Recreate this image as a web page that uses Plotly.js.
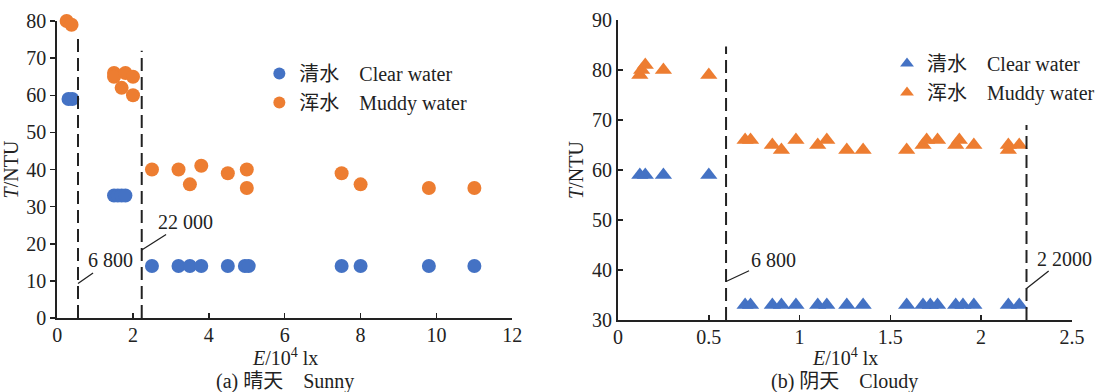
<!DOCTYPE html>
<html>
<head>
<meta charset="utf-8">
<script src="https://cdn.plot.ly/plotly-3.0.1.min.js"></script>
<style>html,body{margin:0;padding:0;background:#fff;}#chart{width:1100px;height:392px;}</style>
</head>
<body>
<div id="chart"></div>
<script>
// ---------- (a) Sunny ----------
const sunnyClearE  = [0.3, 0.4, 1.5, 1.6, 1.7, 1.8, 2.5, 3.2, 3.5, 3.8, 4.5, 4.95, 5.05, 7.5, 8.0, 9.8, 11.0];
const sunnyClearT  = [59, 59, 33, 33, 33, 33, 14, 14, 14, 14, 14, 14, 14, 14, 14, 14, 14];
const sunnyMuddyE  = [0.25, 0.38, 1.5, 1.5, 1.8, 2.0, 1.7, 2.0, 2.5, 3.2, 3.5, 3.8, 4.5, 5.0, 5.0, 7.5, 8.0, 9.8, 11.0];
const sunnyMuddyT  = [80, 79, 66, 65, 66, 65, 62, 60, 40, 40, 36, 41, 39, 40, 35, 39, 36, 35, 35];
const sunnyDividerE   = [0.55, 2.23];
const sunnyDividerTop = [75.7, 72];
const sunnyLabels     = ["6 800", "22 000"];
const sunnyLabelT     = [9.3, 18.3];

// ---------- (b) Cloudy ----------
const cloudyClearE = [0.12, 0.15, 0.25, 0.5, 0.70, 0.73, 0.85, 0.90, 0.98, 1.10, 1.15, 1.26, 1.35, 1.59, 1.68, 1.72, 1.76, 1.86, 1.90, 1.96, 2.15, 2.21];
const cloudyClearT = [59, 59, 59, 59, 33, 33, 33, 33, 33, 33, 33, 33, 33, 33, 33, 33, 33, 33, 33, 33, 33, 33];
const cloudyMuddyE = [0.12, 0.13, 0.15, 0.25, 0.5, 0.70, 0.73, 0.85, 0.90, 0.98, 1.10, 1.15, 1.26, 1.35, 1.59, 1.68, 1.70, 1.76, 1.86, 1.88, 1.96, 2.15, 2.15, 2.21];
const cloudyMuddyT = [79, 80, 81, 80, 79, 66, 66, 65, 64, 66, 65, 66, 64, 64, 64, 65, 66, 66, 65, 66, 65, 64, 65, 65];
const cloudyDividerE   = [0.595, 2.25];
const cloudyDividerTop = [84.7, 69];
const cloudyLabels     = ["6 800", "2 2000"];
const cloudyLabelT     = [37.7, 36.3];

const seriesNames = ["清水\u2003Clear water", "浑水\u2003Muddy water"];
const captions = ["(a) 晴天\u2003Sunny", "(b) 阴天\u2003Cloudy"];
const xTitle = "<i>E</i>/10<sup>4</sup> lx";
const yTitle = "<i>T</i>/NTU";

const BLUE = "#4472C4", ORANGE = "#ED7D31", INK = "#222222";
const FONT = "Liberation Serif, 'Times New Roman', 'Noto Sans CJK SC', serif";
const FS = 20;

const traces = [
  {x: sunnyClearE, y: sunnyClearT, xaxis: "x", yaxis: "y", type: "scatter", mode: "markers", name: seriesNames[0],
   marker: {color: BLUE, size: 14, symbol: "circle"}, cliponaxis: false, legend: "legend"},
  {x: sunnyMuddyE, y: sunnyMuddyT, xaxis: "x", yaxis: "y", type: "scatter", mode: "markers", name: seriesNames[1],
   marker: {color: ORANGE, size: 14, symbol: "circle"}, cliponaxis: false, legend: "legend"},
  {x: cloudyClearE, y: cloudyClearT, xaxis: "x2", yaxis: "y2", type: "scatter", mode: "markers", name: seriesNames[0],
   marker: {color: BLUE, size: 15, symbol: "triangle-up"}, cliponaxis: false, legend: "legend2"},
  {x: cloudyMuddyE, y: cloudyMuddyT, xaxis: "x2", yaxis: "y2", type: "scatter", mode: "markers", name: seriesNames[1],
   marker: {color: ORANGE, size: 15, symbol: "triangle-up"}, cliponaxis: false, legend: "legend2"}
];

const shapes = [];
function addDividers(xs, tops, bottom, xref, yref) {
  xs.forEach((xv, i) => shapes.push({type: "line", xref: xref, yref: yref, x0: xv, x1: xv, y0: bottom, y1: tops[i],
    line: {color: INK, width: 2, dash: "13px,6px"}}));
}
addDividers(sunnyDividerE, sunnyDividerTop, 0, "x", "y");
addDividers(cloudyDividerE, cloudyDividerTop, 30, "x2", "y2");

const annotations = [];
const sunnyOffsets = [[33, -23], [44, -28]];
const cloudyOffsets = [[47, -22], [38, -30]];
function addLabels(xs, ts, labels, offsets, xref, yref) {
  labels.forEach((txt, i) => annotations.push({x: xs[i], y: ts[i], xref: xref, yref: yref, text: txt,
    showarrow: true, arrowhead: 0, arrowwidth: 1.3, arrowcolor: INK, ax: offsets[i][0], ay: offsets[i][1],
    font: {family: FONT, size: FS, color: INK}}));
}
addLabels(sunnyDividerE, sunnyLabelT, sunnyLabels, sunnyOffsets, "x", "y");
addLabels(cloudyDividerE, cloudyLabelT, cloudyLabels, cloudyOffsets, "x2", "y2");

const panelCentersX = [286.5/1100, 850/1100];
panelCentersX.forEach((cx, i) => {
  annotations.push({text: xTitle, xref: "paper", yref: "paper", x: cx, y: (392-357)/392,
    xanchor: "center", yanchor: "middle", showarrow: false, font: {family: FONT, size: FS, color: INK}});
  annotations.push({text: captions[i], xref: "paper", yref: "paper", x: cx, y: (392-381)/392,
    xanchor: "center", yanchor: "middle", showarrow: false, font: {family: FONT, size: FS, color: INK}});
});

const axBase = {showgrid: false, zeroline: false, showline: true, linecolor: INK, linewidth: 2,
  ticks: "inside", ticklen: 5, tickwidth: 1.5, tickcolor: INK,
  tickfont: {family: FONT, size: FS, color: INK}, automargin: false, fixedrange: true};

const layout = {
  width: 1100, height: 392,
  margin: {l: 0, r: 0, t: 0, b: 0},
  paper_bgcolor: "#fff", plot_bgcolor: "#fff",
  font: {family: FONT, size: FS, color: INK},
  xaxis: Object.assign({}, axBase, {domain: [57.5/1100, 515.6/1100], range: [0, 12], dtick: 2, tick0: 0,
    anchor: "y", ticklabelstandoff: -2}),
  yaxis: Object.assign({}, axBase, {domain: [(392-318)/392, (392-21)/392], range: [0, 80], dtick: 10, tick0: 0,
    anchor: "x", ticks: "outside", title: {text: yTitle, font: {family: FONT, size: FS, color: INK}, standoff: 3}}),
  xaxis2: Object.assign({}, axBase, {domain: [622/1100, 1078.75/1100], range: [0, 2.5], dtick: 0.5, tick0: 0,
    anchor: "y2", ticklabelstandoff: -2}),
  yaxis2: Object.assign({}, axBase, {domain: [(392-320)/392, (392-20)/392], range: [30, 90], dtick: 10, tick0: 30,
    anchor: "x2", title: {text: yTitle, font: {family: FONT, size: FS, color: INK}, standoff: 3}}),
  showlegend: true,
  legend: {x: 261/1100, y: (392-54)/392, xanchor: "left", yanchor: "top", bgcolor: "rgba(0,0,0,0)",
    font: {family: FONT, size: FS, color: INK}, tracegroupgap: 0, itemsizing: "constant"},
  legend2: {x: 893/1100, y: (392-44)/392, xanchor: "left", yanchor: "top", bgcolor: "rgba(0,0,0,0)",
    font: {family: FONT, size: FS, color: INK}, tracegroupgap: 0, itemsizing: "constant"},
  shapes: shapes,
  annotations: annotations
};

Plotly.newPlot("chart", traces, layout, {staticPlot: true, displayModeBar: false});
</script>
</body>
</html>
